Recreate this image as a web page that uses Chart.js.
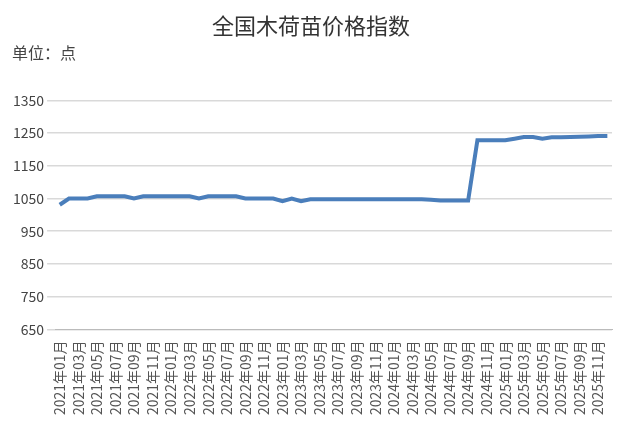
<!DOCTYPE html>
<html><head><meta charset="utf-8">
<script src="https://cdn.jsdelivr.net/npm/chart.js@4"></script>
<style>body{margin:0;background:#fff}#wrap{position:relative;width:638px;height:436px}
#unit{position:absolute;left:12px;top:40px;font:16px "Noto Sans CJK SC";color:#444}</style>
</head><body><div id="wrap"><canvas id="c" width="638" height="436"></canvas><div id="unit">单位：点</div></div>
<script>
(function () {
    "use strict";
    const months = [];
    for (let y = 2021; y <= 2025; y++) for (let m = 1; m <= 12; m++) months.push(y + '年' + String(m).padStart(2, '0') + '月');
    const values = [
        1031, 1050, 1050, 1050, 1057, 1057, 1057, 1057, 1050, 1057, 1057, 1057,
        1057, 1057, 1057, 1050, 1057, 1057, 1057, 1057, 1050, 1050, 1050, 1050,
        1042, 1050, 1042, 1048, 1048, 1048, 1048, 1048, 1048, 1048, 1048, 1048,
        1048, 1048, 1048, 1048, 1046, 1044, 1044, 1044, 1044, 1228, 1228, 1228,
        1228, 1233, 1238, 1238, 1233, 1237, 1237, 1238, 1239, 1240, 1241, 1241
    ];
    const yTicks = [650, 750, 850, 950, 1050, 1150, 1250, 1350];
    new Chart(document.getElementById('c'), {
        type: 'line',
        data: { labels: months, datasets: [{ data: values, borderColor: '#4a7ebb', borderWidth: 4, pointRadius: 0, tension: 0 }] },
        options: {
            responsive: false, animation: false,
            layout: { padding: { left: 10, right: 26, top: 0, bottom: 18 } },
            plugins: {
                legend: { display: false },
                title: { display: true, text: '全国木荷苗价格指数', font: { family: 'Noto Sans CJK SC', size: 22, weight: 'normal' }, color: '#333', padding: { top: 12, bottom: 62 } }
            },
            scales: {
                x: {
                    offset: true,
                    grid: { display: false }, border: { color: '#bbb' },
                    ticks: { autoSkip: false, maxRotation: 90, minRotation: 90, color: '#555', font: { family: 'Noto Sans CJK SC', size: 14 },
                        callback: (v, i) => i % 2 === 0 ? months[i] : '' }
                },
                y: {
                    min: 650, max: 1350, border: { display: false },
                    afterBuildTicks: a => { a.ticks = yTicks.map(v => ({ value: v })); },
                    grid: { color: '#d9d9d9', lineWidth: 1.5 },
                    ticks: { color: '#444', font: { family: 'Noto Sans CJK SC', size: 14 }, callback: v => String(v) }
                }
            }
        }
    });
})();
</script></body></html>
